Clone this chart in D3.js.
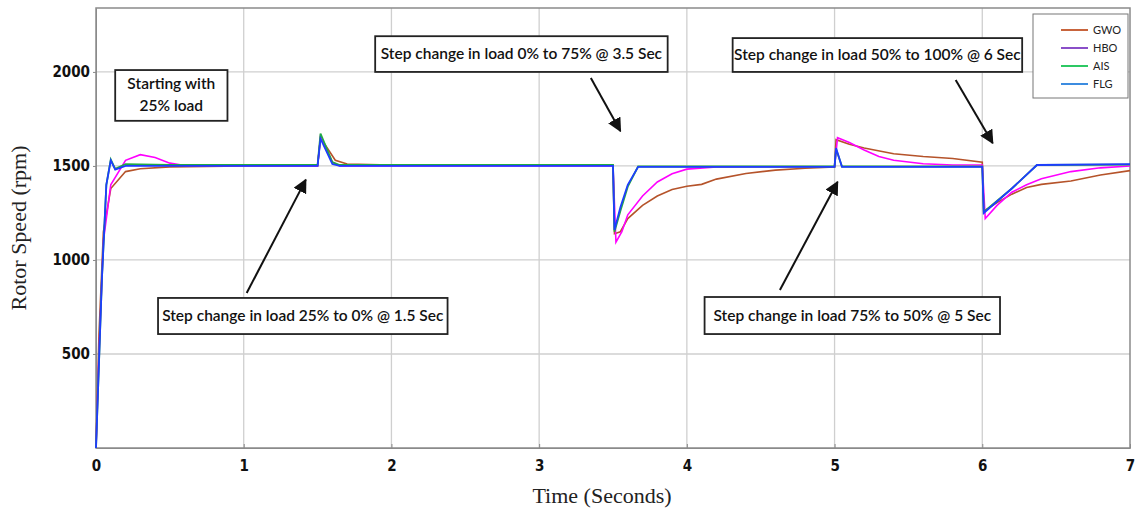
<!DOCTYPE html>
<html>
<head>
<meta charset="utf-8">
<script src="https://cdn.jsdelivr.net/npm/d3@7"></script>
<style>
  body { margin: 0; background: #fff; }
  svg { display: block; }
  .tick text { font-family: "DejaVu Sans Condensed", "DejaVu Sans", sans-serif; font-weight: bold; font-size: 15px; fill: #111; }
  .title { font-family: "Liberation Serif", serif; font-size: 22px; fill: #222; }
  .note { font-family: Lato, "Open Sans", sans-serif; font-size: 15.5px; font-weight: 600; fill: #111; }
  .leg { font-family: Lato, "Open Sans", sans-serif; font-size: 11px; fill: #222; }
</style>
</head>
<body>
<svg id="chart"></svg>
<script>
let w = 1136;
let h = 515;

// series: [time (s), speed (rpm)]
let gwo = [[0,0],[0.02,600],[0.05,1150],[0.1,1380],[0.2,1470],[0.3,1485],[0.5,1495],[1.0,1500],[1.5,1500],[1.52,1650],[1.62,1530],[1.7,1510],[2.0,1505],[3.5,1505],
  [3.51,1140],[3.55,1150],[3.6,1220],[3.7,1290],[3.8,1340],[3.9,1375],[4.0,1392],[4.1,1402],[4.2,1430],[4.4,1460],[4.6,1478],[4.8,1488],[5.0,1495],
  [5.01,1640],[5.1,1615],[5.2,1595],[5.4,1565],[5.6,1550],[5.8,1540],[6.0,1520],[6.01,1260],[6.05,1280],[6.1,1305],[6.2,1350],[6.3,1385],[6.4,1402],[6.6,1420],[6.8,1452],[7.0,1475]];
let hbo = [[0,0],[0.02,500],[0.05,1100],[0.1,1400],[0.2,1530],[0.3,1560],[0.4,1545],[0.5,1515],[0.6,1502],[1.5,1500],[1.52,1655],[1.6,1520],[1.65,1500],[3.5,1500],
  [3.52,1095],[3.56,1150],[3.6,1240],[3.7,1340],[3.8,1415],[3.9,1458],[4.0,1483],[4.2,1495],[5.0,1497],
  [5.02,1650],[5.1,1625],[5.2,1585],[5.3,1550],[5.4,1530],[5.6,1512],[5.8,1505],[6.0,1505],[6.02,1220],[6.1,1290],[6.2,1360],[6.3,1400],[6.4,1432],[6.6,1470],[6.8,1490],[7.0,1500]];
let ais = [[0,0],[0.04,900],[0.07,1400],[0.1,1535],[0.13,1485],[0.2,1510],[0.5,1505],[1.5,1505],[1.52,1672],[1.6,1520],[1.65,1505],[3.5,1505],
  [3.51,1150],[3.55,1260],[3.6,1390],[3.67,1497],[5.0,1497],[5.01,1590],[5.05,1497],[6.0,1497],[6.01,1255],[6.2,1380],[6.37,1505],[7.0,1507]];
let flg = [[0,0],[0.04,900],[0.07,1400],[0.1,1530],[0.13,1480],[0.2,1500],[0.5,1500],[1.5,1500],[1.52,1645],[1.6,1510],[1.65,1500],[3.5,1500],
  [3.51,1160],[3.55,1280],[3.6,1400],[3.67,1495],[5.0,1495],[5.01,1595],[5.05,1495],[6.0,1495],[6.01,1250],[6.2,1380],[6.37,1505],[7.0,1510]];

let seriesNames = ['GWO', 'HBO', 'AIS', 'FLG'];
let lineColors = ['#b5532a', '#ff00ff', '#22aa44', '#1e3cff'];
let legendColors = ['#c8643c', '#8a4fc8', '#2dc864', '#3c8ce0'];

let xTicks = [0, 1, 2, 3, 4, 5, 6, 7];
let yTicks = [500, 1000, 1500, 2000];

// annotation boxes: [t0, t1, rpmTop, rpmBottom, lines]
let notes = [
  [0.13, 0.89, 2010, 1740, ['Starting with', '25% load']],
  [1.89, 3.87, 2190, 2000, ['Step change in load 0% to 75% @ 3.5 Sec']],
  [4.31, 6.27, 2180, 2000, ['Step change in load 50% to 100% @ 6 Sec']],
  [0.42, 2.38, 798, 606, ['Step change in load 25% to 0% @ 1.5 Sec']],
  [4.12, 6.12, 803, 606, ['Step change in load 75% to 50% @ 5 Sec']]
];
// arrows: [tFrom, rpmFrom, tTo, rpmTo]
let arrows = [
  [1.02, 824, 1.42, 1426],
  [3.35, 1968, 3.55, 1686],
  [5.82, 1957, 6.07, 1622],
  [4.63, 840, 5.02, 1415]
];

let m = {left: 96, right: 6, top: 8, bottom: 67};
let pw = w - m.left - m.right;
let ph = h - m.top - m.bottom;

let x = d3.scaleLinear().domain([0, 7]).range([0, pw]);
let y = d3.scaleLinear().domain([0, 2340]).range([ph, 0]);

let svg = d3.select('#chart')
  .attr('width', w)
  .attr('height', h)
  .append('g')
  .attr('transform', `translate(${m.left}, ${m.top})`);

// grid
svg.append('g')
  .selectAll('line')
  .data(xTicks.slice(1, -1))
  .enter().append('line')
  .attr('x1', d => x(d)).attr('x2', d => x(d))
  .attr('y1', 0).attr('y2', ph)
  .attr('stroke', '#cfcfcf').attr('stroke-width', 1.3);

svg.append('g')
  .selectAll('line')
  .data(yTicks)
  .enter().append('line')
  .attr('x1', 0).attr('x2', pw)
  .attr('y1', d => y(d)).attr('y2', d => y(d))
  .attr('stroke', '#cfcfcf').attr('stroke-width', 1.3);

let xAxis = d3.axisBottom(x).tickValues(xTicks).tickFormat(d3.format('d')).tickSizeInner(4).tickSizeOuter(0).tickPadding(8);
let yAxis = d3.axisLeft(y).tickValues(yTicks).tickFormat(d3.format('d')).tickSizeInner(3).tickSizeOuter(0).tickPadding(3);

let $xAxis = svg.append('g').attr('transform', `translate(0, ${ph})`).call(xAxis);
let $yAxis = svg.append('g').call(yAxis);
$xAxis.select('.domain').attr('stroke', '#888');
$yAxis.select('.domain').attr('stroke', '#888');
$xAxis.selectAll('.tick line').attr('stroke', '#888').attr('y2', -4);
$yAxis.selectAll('.tick line').attr('stroke', '#888');

// frame
svg.append('rect')
  .attr('width', pw).attr('height', ph)
  .attr('fill', 'none').attr('stroke', '#8a8a8a').attr('stroke-width', 1.5);

// lines
let line = d3.line().x(d => x(d[0])).y(d => y(d[1]));
let allSeries = [gwo, hbo, ais, flg];
svg.append('g')
  .selectAll('path')
  .data(allSeries)
  .enter().append('path')
  .attr('d', line)
  .attr('fill', 'none')
  .attr('stroke', (d, i) => lineColors[i])
  .attr('stroke-width', (d, i) => i >= 2 ? 1.8 : 1.6);

// arrows
svg.append('defs').append('marker')
  .attr('id', 'head')
  .attr('viewBox', '0 0 10 10')
  .attr('refX', 9).attr('refY', 5)
  .attr('markerWidth', 7).attr('markerHeight', 7)
  .attr('orient', 'auto')
  .append('path').attr('d', 'M0,0 L10,5 L0,10 z').attr('fill', '#111');

svg.append('g')
  .selectAll('line')
  .data(arrows)
  .enter().append('line')
  .attr('x1', d => x(d[0])).attr('y1', d => y(d[1]))
  .attr('x2', d => x(d[2])).attr('y2', d => y(d[3]))
  .attr('stroke', '#111').attr('stroke-width', 2)
  .attr('marker-end', 'url(#head)');

// annotation boxes
let note = svg.append('g')
  .selectAll('g')
  .data(notes)
  .enter().append('g');

note.append('rect')
  .attr('x', d => x(d[0])).attr('y', d => y(d[2]))
  .attr('width', d => x(d[1]) - x(d[0]))
  .attr('height', d => y(d[3]) - y(d[2]))
  .attr('fill', '#fff').attr('stroke', '#222').attr('stroke-width', 1.8);

note.each(function(d) {
  let g = d3.select(this);
  let cx = (x(d[0]) + x(d[1])) / 2;
  let cy = (y(d[2]) + y(d[3])) / 2;
  let n = d[4].length;
  d[4].forEach((t, i) => {
    g.append('text')
      .attr('class', 'note')
      .attr('x', cx)
      .attr('y', cy + (i - (n - 1) / 2) * 22 + 5)
      .attr('text-anchor', 'middle')
      .text(t);
  });
});

// legend
let legend = svg.append('g').attr('transform', `translate(${pw - 97}, 6)`);
legend.append('rect')
  .attr('width', 95).attr('height', 84)
  .attr('fill', '#fff').attr('stroke', '#777').attr('stroke-width', 1);
let item = legend.selectAll('g')
  .data(seriesNames)
  .enter().append('g')
  .attr('transform', (d, i) => `translate(0, ${16 + i * 18})`);
item.append('line')
  .attr('x1', 28).attr('x2', 55)
  .attr('stroke', (d, i) => legendColors[i]).attr('stroke-width', 2);
item.append('text')
  .attr('class', 'leg')
  .attr('x', 60).attr('y', 4)
  .text(d => d);

// axis titles
svg.append('text')
  .attr('class', 'title')
  .attr('x', pw / 2 - 11).attr('y', ph + 55)
  .attr('text-anchor', 'middle')
  .text('Time (Seconds)');

svg.append('text')
  .attr('class', 'title')
  .attr('transform', `translate(${-70}, ${ph / 2}) rotate(-90)`)
  .attr('text-anchor', 'middle')
  .text('Rotor Speed (rpm)');
</script>
</body>
</html>
